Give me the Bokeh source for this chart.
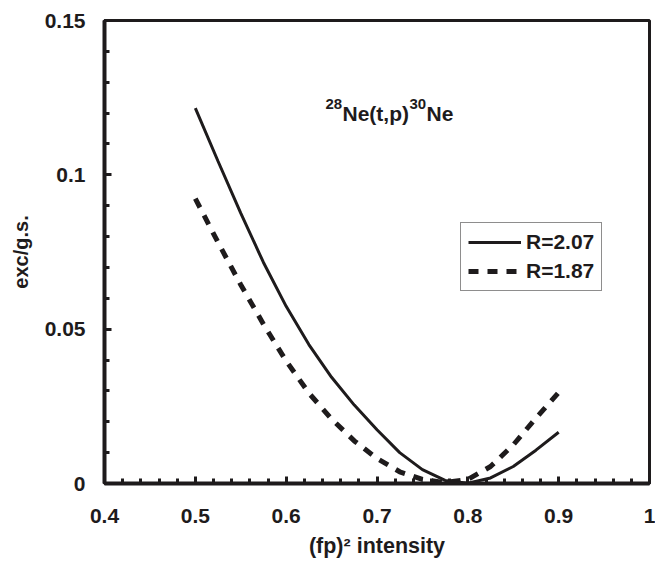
from bokeh.plotting import figure
from bokeh.models import (Range1d, FixedTicker, CustomJSTickFormatter, Legend,
                          LegendItem, Label)
from bokeh.embed import file_html
from bokeh.resources import INLINE

# ---------------- data ----------------
fp2 = [0.5, 0.525, 0.55, 0.575, 0.6, 0.625, 0.65, 0.675, 0.7,
       0.725, 0.75, 0.775, 0.8, 0.825, 0.85, 0.875, 0.9]
r207 = [0.1216, 0.1044, 0.0876, 0.0716, 0.0574, 0.0450, 0.0344, 0.0254,
        0.0174, 0.0100, 0.0045, 0.0010, 0.0001, 0.0018, 0.0055, 0.0108, 0.0166]
r187 = [0.0923, 0.0781, 0.0644, 0.0516, 0.0397, 0.0293, 0.0209, 0.0138,
        0.0081, 0.0038, 0.0013, 0.0003, 0.0013, 0.0055, 0.0125, 0.0212, 0.0295]
series_labels = ["R=2.07", "R=1.87"]

x_ticks = [0.4, 0.5, 0.6, 0.7, 0.8, 0.9, 1.0]
x_tick_labels = ["0.4", "0.5", "0.6", "0.7", "0.8", "0.9", "1"]
x_minor = [round(0.4 + 0.02 * i, 2) for i in range(31)]
y_ticks = [0.0, 0.05, 0.1, 0.15]
y_tick_labels = ["0", "0.05", "0.1", "0.15"]
y_minor = [round(0.01 * i, 2) for i in range(16)]

FONT = "Liberation Sans"
INK = "#1e1b1c"

p = figure(width=655, height=565, x_range=Range1d(0.4, 1.0), y_range=Range1d(0, 0.15),
           output_backend="svg", toolbar_location=None,
           min_border_left=104, min_border_right=6, min_border_top=20, min_border_bottom=82)
p.xgrid.visible = False
p.ygrid.visible = False
p.outline_line_color = INK
p.outline_line_width = 3
p.background_fill_color = "white"
p.border_fill_color = "white"

fmt_js = """
let best = 0, d = 1e9;
for (let i = 0; i < tv.length; i++) {
  const e = Math.abs(tv[i] - tick);
  if (e < d) { d = e; best = i; }
}
return tl[best];
"""
p.xaxis.ticker = FixedTicker(ticks=x_ticks, minor_ticks=x_minor)
p.yaxis.ticker = FixedTicker(ticks=y_ticks, minor_ticks=y_minor)
p.xaxis.formatter = CustomJSTickFormatter(args=dict(tv=x_ticks, tl=x_tick_labels), code=fmt_js)
p.yaxis.formatter = CustomJSTickFormatter(args=dict(tv=y_ticks, tl=y_tick_labels), code=fmt_js)

for ax in (p.xaxis, p.yaxis):
    ax.axis_line_color = INK
    ax.axis_line_width = 4
    ax.major_tick_line_color = INK
    ax.major_tick_line_width = 3
    ax.minor_tick_line_color = INK
    ax.minor_tick_line_width = 3
    ax.major_tick_in = 7
    ax.major_tick_out = 0
    ax.minor_tick_in = 5
    ax.minor_tick_out = 0
    ax.major_label_text_font = FONT
    ax.major_label_text_font_style = "bold"
    ax.major_label_text_font_size = "21px"
    ax.major_label_text_color = INK
    ax.axis_label_text_font = FONT
    ax.axis_label_text_font_style = "bold"
    ax.axis_label_text_color = INK

p.xaxis.major_label_standoff = 25
p.xaxis.axis_label = "(fp)\u00b2 intensity"
p.xaxis.axis_label_text_font_size = "21.5px"
p.xaxis.axis_label_standoff = 8
p.yaxis.major_label_standoff = 19
p.yaxis.axis_label = "exc/g.s."
p.yaxis.axis_label_text_font_size = "20px"
p.yaxis.axis_label_standoff = 10

r1 = p.line(fp2, r207, line_color=INK, line_width=3)
r2 = p.line(fp2, r187, line_color=INK, line_width=5, line_dash="10 9")

legend = Legend(items=[LegendItem(label=series_labels[0], renderers=[r1]),
                       LegendItem(label=series_labels[1], renderers=[r2])],
                location=(356, 192), margin=0, padding=7, spacing=5,
                glyph_width=53, glyph_height=24, label_height=24, label_standoff=5,
                label_text_font=FONT, label_text_font_style="bold",
                label_text_font_size="21px", label_text_color=INK,
                border_line_color=INK, border_line_width=1.5,
                background_fill_color="white", background_fill_alpha=1.0)
p.add_layout(legend)

def add_text(txt, size, dx, dy):
    # anchored to the frame's bottom-left corner (0.4, 0), offsets in pixels
    p.add_layout(Label(x=0.4, y=0.0, text=txt, x_offset=dx, y_offset=dy,
                       text_font=FONT, text_font_style="bold", text_font_size=size,
                       text_color=INK, text_baseline="alphabetic", text_align="left"))

# annotation 28Ne(t,p)30Ne
add_text("28", "15px", 221, 380)
add_text("Ne(t,p)", "21px", 238, 370)
add_text("30", "15px", 305, 380)
add_text("Ne", "21px", 322, 370)

open("out.html", "w").write(file_html(p, INLINE))
